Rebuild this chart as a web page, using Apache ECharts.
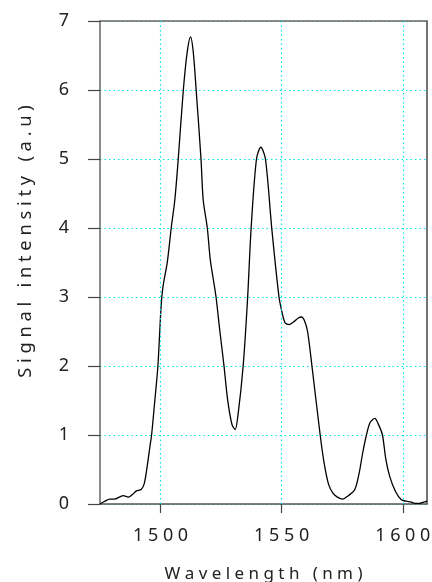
<!DOCTYPE html>
<html>
<head>
<meta charset="utf-8">
<script src="https://cdn.jsdelivr.net/npm/echarts@6/dist/echarts.min.js"></script>
<style>html,body{margin:0;padding:0;background:#fff}#c{width:432px;height:582px}</style>
</head>
<body>
<div id="c"></div>
<script>
const wavelength = [1475,1477,1479,1481,1483,1484.6,1486.7,1488.5,1490,1492,1493.3,1494.5,1495.6,1496.3,1497.5,1498.9,1500.2,1501,1502.8,1504.4,1505.9,1507.3,1509.4,1511,1512.4,1513.5,1514.7,1516.7,1517.6,1519.3,1520.5,1521.8,1522.9,1524.5,1526.2,1527.7,1529.5,1530.8,1532,1534.1,1535.9,1537.4,1539.6,1541.4,1543.3,1545.9,1548.9,1550.4,1551.5,1553.2,1555,1557,1558.2,1559.5,1560.7,1562.5,1565.9,1567.5,1569.4,1571.3,1573,1575.1,1577.5,1580.2,1582,1583.5,1585,1586.5,1588.4,1590,1591.6,1593,1594.6,1597,1599.4,1601.5,1603.3,1605,1607,1609,1610];
const intensity = [0.00,0.04,0.07,0.07,0.10,0.12,0.10,0.14,0.19,0.21,0.30,0.55,0.83,1.00,1.45,2.00,2.85,3.15,3.51,4.00,4.41,5.00,6.00,6.55,6.77,6.55,6.00,5.00,4.41,4.00,3.55,3.25,3.00,2.50,2.00,1.51,1.15,1.08,1.30,2.00,2.96,4.00,5.00,5.17,5.00,4.00,3.00,2.74,2.62,2.60,2.64,2.70,2.71,2.65,2.50,2.00,1.00,0.60,0.28,0.15,0.10,0.07,0.12,0.21,0.45,0.75,1.00,1.18,1.24,1.15,1.00,0.65,0.40,0.18,0.06,0.04,0.03,0.01,0.01,0.03,0.04];
const xTicks = [1500,1550,1600];
const xTitle = 'W a v e l e n g t h   ( n m )';
const yTitle = 'S i g n a l   i n t e n s i t y   ( a . u )';

const spaced = s => String(s).split('').join(' ');
const font = 'Noto Sans';
const chart = echarts.init(document.getElementById('c'));
chart.setOption({
  animation: false,
  backgroundColor: '#fff',
  grid: {left: 100, right: 5, top: 21, bottom: 78, outerBoundsMode: 'none', containLabel: false},
  xAxis: [{
    type: 'value', min: 1475, max: 1610,
    axisLine: {show: true, onZero: false, lineStyle: {color: '#555', width: 1.5}},
    axisTick: {show: true, customValues: xTicks, length: 9, lineStyle: {color: '#444', width: 1.2}},
    axisLabel: {customValues: xTicks, formatter: v => spaced(v), margin: 23, fontFamily: font, fontSize: 18, color: '#222'},
    splitLine: {show: false},
    name: xTitle, nameLocation: 'middle', nameGap: 62,
    nameTextStyle: {fontFamily: font, fontSize: 17, color: '#222'}
  }, {
    type: 'value', min: 1475, max: 1610, position: 'top',
    axisLine: {show: true, onZero: false, lineStyle: {color: '#666', width: 1.5}},
    axisTick: {show: false}, axisLabel: {show: false}, splitLine: {show: false}
  }],
  yAxis: [{
    type: 'value', min: 0, max: 7, interval: 1,
    axisLine: {show: true, onZero: false, lineStyle: {color: '#666', width: 1.5}},
    axisTick: {show: true, length: 12, lineStyle: {color: '#444', width: 1.2}},
    axisLabel: {margin: 31, fontFamily: font, fontSize: 18, color: '#222'},
    splitLine: {show: true, lineStyle: {color: '#00e5ee', type: [1.5, 3], width: 1.2}},
    name: yTitle, nameLocation: 'middle', nameGap: 65, nameRotate: 90,
    nameTextStyle: {fontFamily: font, fontSize: 18.3, color: '#222', padding: [0, 0, 0, 42]}
  }, {
    type: 'value', min: 0, max: 7, interval: 1, position: 'right',
    axisLine: {show: true, onZero: false, lineStyle: {color: '#444', width: 1.5}},
    axisTick: {show: false}, axisLabel: {show: false}, splitLine: {show: false}
  }],
  series: [{
    type: 'line',
    data: wavelength.map((w, i) => [w, intensity[i]]),
    showSymbol: false, smooth: 0.3,
    lineStyle: {color: '#000', width: 1.3},
    markLine: {
      silent: true, symbol: 'none', label: {show: false},
      lineStyle: {color: '#00e5ee', type: [1.5, 3], width: 1.2},
      data: xTicks.map(v => ({xAxis: v}))
    },
    z: 3
  }]
});
</script>
</body>
</html>
